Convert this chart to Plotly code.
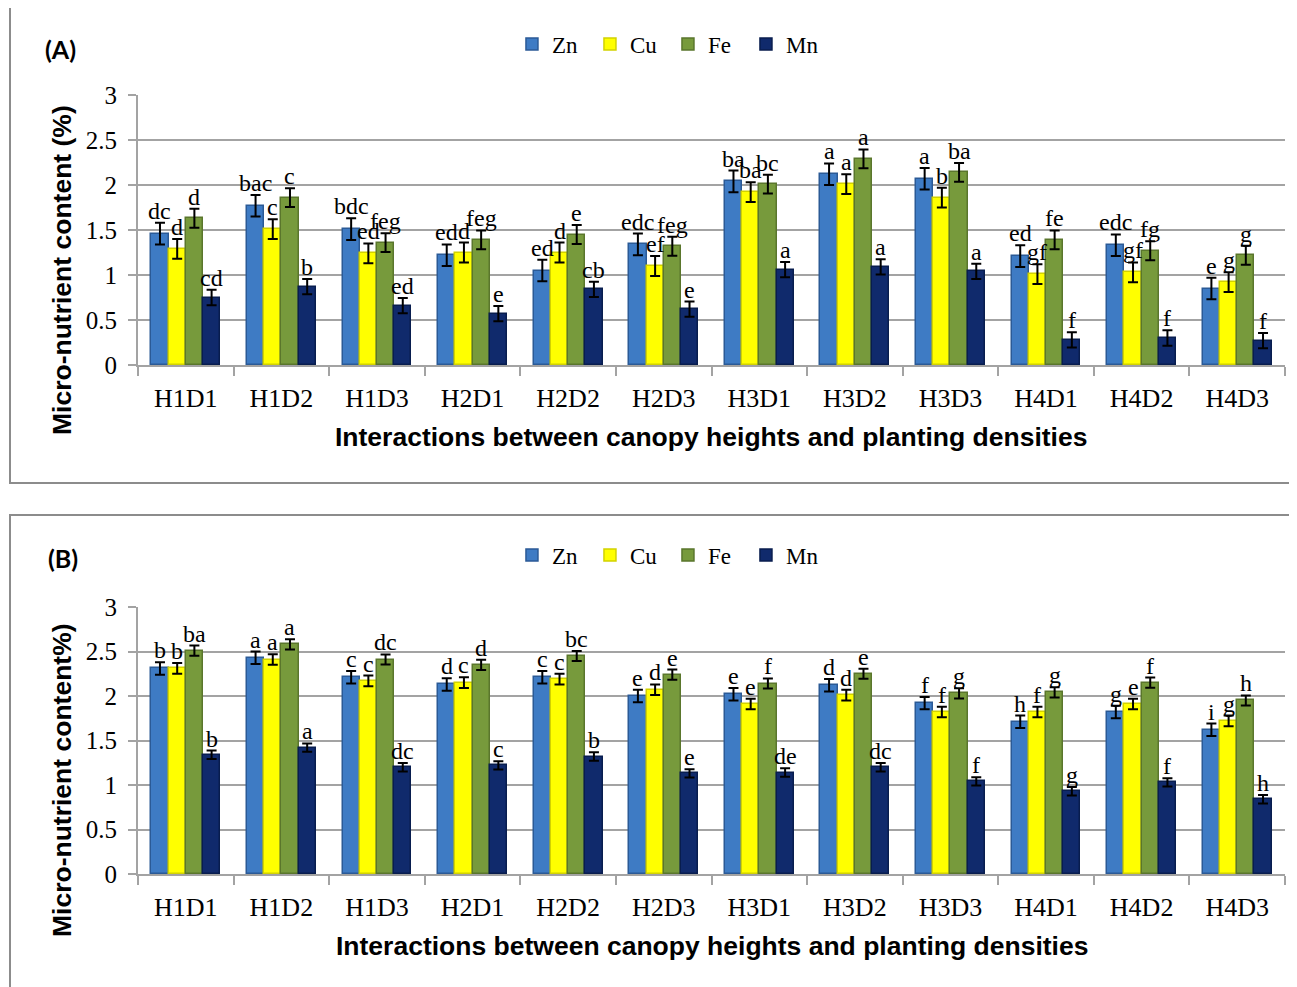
import plotly.graph_objects as go

# ---------------- data ----------------
categories = ["H1D1", "H1D2", "H1D3", "H2D1", "H2D2", "H2D3",
              "H3D1", "H3D2", "H3D3", "H4D1", "H4D2", "H4D3"]
series_names = ["Zn", "Cu", "Fe", "Mn"]

# Panel A
zn_a = [1.46, 1.77, 1.51, 1.22, 1.05, 1.34, 2.04, 2.12, 2.07, 1.21, 1.33, 0.85]
cu_a = [1.29, 1.51, 1.24, 1.25, 1.25, 1.10, 1.92, 2.01, 1.86, 1.01, 1.03, 0.92]
fe_a = [1.63, 1.86, 1.36, 1.39, 1.45, 1.32, 2.01, 2.29, 2.14, 1.39, 1.27, 1.22]
mn_a = [0.75, 0.87, 0.66, 0.57, 0.84, 0.62, 1.06, 1.09, 1.04, 0.28, 0.30, 0.27]
err_zn_a = [0.12] * 12
err_cu_a = [0.11] * 12
err_fe_a = [0.105] * 12
err_mn_a = [0.085] * 12
lab_zn_a = ["dc", "bac", "bdc", "ed", "ed", "edc", "ba", "a", "a", "ed", "edc", "e"]
lab_cu_a = ["d", "c", "ed", "d", "d", "ef", "ba", "a", "b", "gf", "gf", "g"]
lab_fe_a = ["d", "c", "feg", "feg", "e", "feg", "bc", "a", "ba", "fe", "fg", "g"]
lab_mn_a = ["cd", "b", "ed", "e", "cb", "e", "a", "a", "a", "f", "f", "f"]

# Panel B
zn_b = [2.31, 2.43, 2.21, 2.13, 2.21, 2.00, 2.02, 2.12, 1.92, 1.71, 1.82, 1.62]
cu_b = [2.31, 2.41, 2.17, 2.15, 2.19, 2.07, 1.91, 2.01, 1.82, 1.82, 1.91, 1.72]
fe_b = [2.51, 2.58, 2.41, 2.35, 2.45, 2.24, 2.14, 2.25, 2.03, 2.04, 2.15, 1.95]
mn_b = [1.34, 1.42, 1.20, 1.22, 1.32, 1.13, 1.14, 1.20, 1.04, 0.93, 1.03, 0.84]
err_zn_b = [0.07] * 12
err_cu_b = [0.06] * 12
err_fe_b = [0.057] * 12
err_mn_b = [0.047] * 12
lab_zn_b = ["b", "a", "c", "d", "c", "e", "e", "d", "f", "h", "g", "i"]
lab_cu_b = ["b", "a", "c", "c", "c", "d", "e", "d", "f", "f", "e", "g"]
lab_fe_b = ["ba", "a", "dc", "d", "bc", "e", "f", "e", "g", "g", "f", "h"]
lab_mn_b = ["b", "a", "dc", "c", "b", "e", "de", "dc", "f", "g", "f", "h"]

# ---------------- styles ----------------
W, H = 1289, 979          # page body has an 8px margin
OFF = 8
fill_colors = ["#3E7BC4", "#FFFF00", "#779A3C", "#102A6C"]
line_colors = ["#2B5A96", "#D2D200", "#5A762C", "#081D4E"]
serif = "Liberation Serif"
sans = "Liberation Sans"
grid_c = "#A3A3A3"
bar_w = 0.18
offsets = [-1.5 * bar_w, -0.5 * bar_w, 0.5 * bar_w, 1.5 * bar_w]


def px(x):
    return (x - OFF) / W


def py(y):
    return 1 - (y - OFF) / H


fig = go.Figure()
annotations = []

panels = [
    dict(vals=[zn_a, cu_a, fe_a, mn_a], errs=[err_zn_a, err_cu_a, err_fe_a, err_mn_a],
         labs=[lab_zn_a, lab_cu_a, lab_fe_a, lab_mn_a], xa="x", ya="y", legend="legend"),
    dict(vals=[zn_b, cu_b, fe_b, mn_b], errs=[err_zn_b, err_cu_b, err_fe_b, err_mn_b],
         labs=[lab_zn_b, lab_cu_b, lab_fe_b, lab_mn_b], xa="x2", ya="y2", legend="legend2"),
]

idx = list(range(len(categories)))
for p in panels:
    for s, name in enumerate(series_names):
        xs = [i + offsets[s] for i in idx]
        fig.add_trace(go.Bar(
            x=xs, y=p["vals"][s], width=bar_w, name=name,
            marker=dict(color=fill_colors[s], line=dict(color=line_colors[s], width=1.5)),
            error_y=dict(type="data", array=p["errs"][s], color="black", thickness=2, width=5),
            xaxis=p["xa"], yaxis=p["ya"], legend=p["legend"], showlegend=True,
        ))
        for i in idx:
            annotations.append(dict(
                x=xs[i], y=p["vals"][s][i] + p["errs"][s][i],
                xref=p["xa"], yref=p["ya"], text=p["labs"][s][i],
                showarrow=False, yanchor="bottom", xanchor="center",
                font=dict(family=serif, size=24, color="black"), yshift=-3,
            ))

xdom = [px(138), px(1285)]
common_x = dict(
    domain=xdom, range=[-0.5, 11.5], tickmode="array", tickvals=idx, ticktext=categories,
    ticks="", showline=True, linecolor=grid_c, linewidth=2, showgrid=False, zeroline=False,
    tickfont=dict(family=serif, size=26, color="black"), ticklabelstandoff=9,
    minor=dict(tickmode="linear", tick0=-0.5, dtick=1, ticks="outside", ticklen=9,
               tickwidth=2, tickcolor=grid_c, showgrid=False),
    fixedrange=True, automargin=False,
)
common_y = dict(
    range=[0, 3], dtick=0.5, tick0=0, showgrid=True, gridcolor=grid_c, gridwidth=2,
    showline=True, linecolor=grid_c, linewidth=2, ticks="outside", ticklen=8,
    tickwidth=2, tickcolor=grid_c, zeroline=False,
    tickfont=dict(family=serif, size=25, color="black"), ticklabelstandoff=6,
    fixedrange=True, automargin=False,
)

legend_common = dict(orientation="h", x=0.512, xanchor="center", yanchor="middle",
                     font=dict(family=serif, size=23, color="black"), bgcolor="rgba(0,0,0,0)",
                     itemwidth=30, tracegroupgap=0, entrywidth=33, entrywidthmode="pixels")

fig.update_layout(
    width=W, height=H, margin=dict(l=0, r=0, t=0, b=0, pad=0, autoexpand=False),
    paper_bgcolor="white", plot_bgcolor="white",
    barmode="overlay", bargap=0,
    xaxis=dict(common_x, anchor="y"),
    yaxis=dict(common_y, anchor="x", domain=[py(365), py(95)]),
    xaxis2=dict(common_x, anchor="y2"),
    yaxis2=dict(common_y, anchor="x2", domain=[py(874), py(607)]),
    legend=dict(legend_common, y=py(44)),
    legend2=dict(legend_common, y=py(555)),
    showlegend=True,
)

# axis titles and panel labels
annotations += [
    dict(text="<b>Micro-nutrient content (%)</b>", x=px(62), y=py(270), xref="paper", yref="paper",
         xanchor="center", yanchor="middle",
         textangle=-90, showarrow=False, font=dict(family=sans, size=26.5, color="black")),
    dict(text="<b>Micro-nutrient content%)</b>", x=px(62), y=py(780), xref="paper", yref="paper",
         xanchor="center", yanchor="middle",
         textangle=-90, showarrow=False, font=dict(family=sans, size=26.5, color="black")),
    dict(text="<b>Interactions between canopy heights and planting densities</b>", x=px(711),
         y=py(437), xref="paper", yref="paper", showarrow=False, xanchor="center", yanchor="middle",
         font=dict(family=sans, size=26.5, color="black")),
    dict(text="<b>Interactions between canopy heights and planting densities</b>", x=px(712),
         y=py(946), xref="paper", yref="paper", showarrow=False, xanchor="center", yanchor="middle",
         font=dict(family=sans, size=26.5, color="black")),
    dict(text="<b>(A)</b>", x=px(60), y=py(49), xref="paper", yref="paper", showarrow=False,
         xanchor="center", yanchor="middle", font=dict(family="Lato", size=25, color="black")),
    dict(text="<b>(B)</b>", x=px(63), y=py(558), xref="paper", yref="paper", showarrow=False,
         xanchor="center", yanchor="middle", font=dict(family="Lato", size=25, color="black")),
]
fig.update_layout(annotations=annotations)

# panel frames
fig.add_shape(type="rect", xref="paper", yref="paper", x0=px(10), x1=1.02, y0=py(483), y1=py(5),
              line=dict(color="#8C8C8C", width=2), fillcolor="rgba(0,0,0,0)", layer="below")
fig.add_shape(type="rect", xref="paper", yref="paper", x0=px(10), x1=1.02, y0=-0.02, y1=py(515),
              line=dict(color="#8C8C8C", width=2), fillcolor="rgba(0,0,0,0)", layer="below")

fig.write_html("out.html")
